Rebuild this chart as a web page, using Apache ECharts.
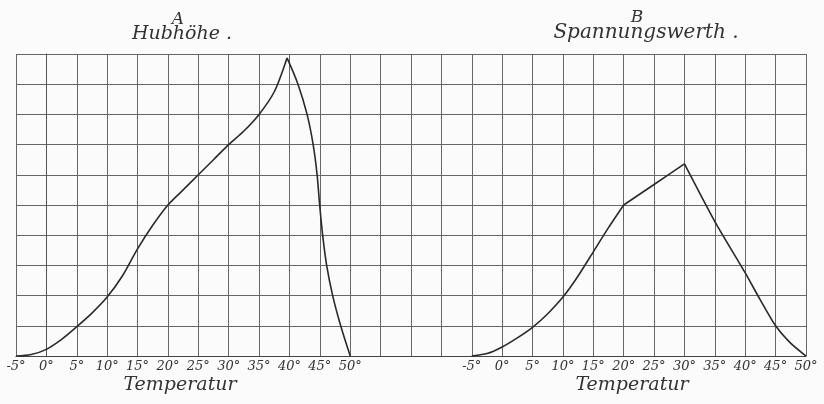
<!DOCTYPE html>
<html>
<head>
<meta charset="utf-8">
<script src="https://cdn.jsdelivr.net/npm/echarts@6/dist/echarts.min.js"></script>
<style>html,body{margin:0;padding:0;background:#fbfbfb}#c{width:824px;height:404px}</style>
</head>
<body>
<div id="c"></div>
<script>
// Panel A: Hubhöhe vs Temperatur
const tempA = [-5, -2.5, 0, 2.5, 5, 7.5, 10, 12.5, 15, 17.5, 20, 22.5, 25, 27.5, 30, 32.5, 35, 37.5, 39.6, 41.4, 42.9, 43.9, 44.55, 44.97, 45.46, 46.12, 47.11, 48.43, 50];
const hubA  = [0, 0.05, 0.22, 0.55, 0.97, 1.42, 1.95, 2.65, 3.55, 4.33, 5.0, 5.5, 6.0, 6.5, 7.0, 7.45, 8.0, 8.75, 9.87, 9.0, 8.0, 7.0, 6.0, 5.0, 4.0, 3.0, 2.0, 1.0, 0];
const peakA = 18;               // index of the sharp peak in A
// Panel B: Spannungswerth vs Temperatur
const tempB = [-5, -2.5, 0, 2.5, 5, 7.5, 10, 12.5, 15, 17.5, 20, 25, 30, 35, 40, 42.5, 45, 47.5, 50];
const spanB = [0, 0.08, 0.3, 0.6, 0.95, 1.4, 1.95, 2.65, 3.45, 4.25, 5.0, 5.68, 6.36, 4.45, 2.75, 1.85, 1.0, 0.42, 0];
const kinksB = [10, 12];        // indices of the corners in B (20°, 30°)
const tickTemps = [-5, 0, 5, 10, 15, 20, 25, 30, 35, 40, 45, 50];
const offsetB = 75; // B panel is placed 75 units to the right on the shared grid

const fontF = '"DejaVu Serif", "Liberation Serif", serif';
const ink = '#333';

function pieces(xs, ys, breaks, off) {
  const cuts = [0].concat(breaks, [xs.length - 1]);
  const out = [];
  for (let k = 0; k < cuts.length - 1; k++) {
    const seg = [];
    for (let i = cuts[k]; i <= cuts[k + 1]; i++) seg.push([xs[i] + off, ys[i]]);
    out.push(seg);
  }
  return out;
}
const lineStyle = {color: '#2a2a2a', width: 1.6};
const series = [];
pieces(tempA, hubA, [peakA], 0).forEach(d => series.push({type: 'line', data: d, showSymbol: false, smooth: 0.3, lineStyle}));
pieces(tempB, spanB, kinksB, offsetB).forEach(d => series.push({type: 'line', data: d, showSymbol: false, smooth: 0.2, lineStyle}));

const chart = echarts.init(document.getElementById('c'), null, {renderer: 'canvas'});
chart.setOption({
  backgroundColor: '#fbfbfb',
  animation: false,
  grid: {left: 16, right: 18, top: 54, bottom: 48},
  xAxis: {
    type: 'value', min: -5, max: 125, interval: 5,
    axisLine: {show: true, lineStyle: {color: '#444', width: 1.2}},
    axisTick: {show: false},
    splitLine: {show: true, lineStyle: {color: '#666', width: 1}},
    axisLabel: {
      color: ink, fontFamily: fontF, fontStyle: 'italic', fontSize: 13, margin: 4,
      formatter: function (v) {
        if (v <= 50 && tickTemps.indexOf(v) >= 0) return v + '°';
        if (v >= 70 && tickTemps.indexOf(v - offsetB) >= 0) return (v - offsetB) + '°';
        return '';
      }
    }
  },
  yAxis: {
    type: 'value', min: 0, max: 10, interval: 1,
    axisLine: {show: true, lineStyle: {color: '#555', width: 1}},
    axisTick: {show: false}, axisLabel: {show: false},
    splitLine: {show: true, lineStyle: {color: '#666', width: 1}}
  },
  graphic: [
    {type: 'text', x: 178, y: 11, style: {text: 'A', font: 'italic 17px ' + fontF, fill: ink, textAlign: 'center'}},
    {type: 'text', x: 182, y: 25, style: {text: 'Hubhöhe .', font: 'italic 19px ' + fontF, fill: ink, textAlign: 'center'}},
    {type: 'text', x: 637, y: 9, style: {text: 'B', font: 'italic 17px ' + fontF, fill: ink, textAlign: 'center'}},
    {type: 'text', x: 646, y: 23, style: {text: 'Spannungswerth .', font: 'italic 20px ' + fontF, fill: ink, textAlign: 'center'}},
    {type: 'text', x: 180, y: 376, style: {text: 'Temperatur', font: 'italic 19px ' + fontF, fill: ink, textAlign: 'center'}},
    {type: 'text', x: 632, y: 376, style: {text: 'Temperatur', font: 'italic 19px ' + fontF, fill: ink, textAlign: 'center'}}
  ],
  series: series
});
</script>
</body>
</html>
